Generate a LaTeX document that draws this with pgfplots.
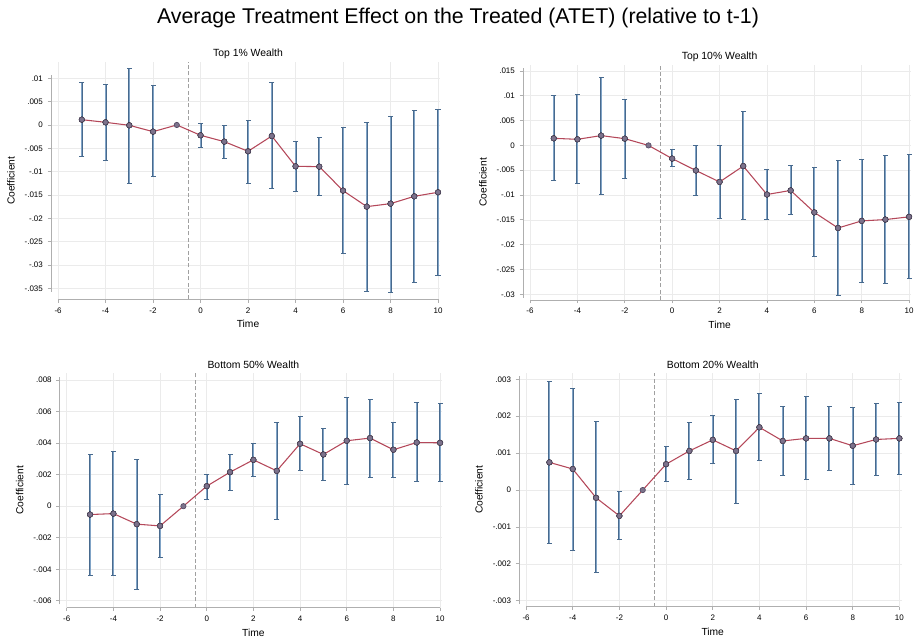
\documentclass[border=0pt]{standalone}
\usepackage{fontspec}
\setmainfont{Liberation Sans}
\usepackage{pgfplots}
\usepackage{pgfplotstable}
\pgfplotsset{compat=1.18}

\definecolor{linered}{RGB}{180,72,90}
\definecolor{markgray}{RGB}{125,115,140}
\definecolor{markdark}{RGB}{85,75,100}
\definecolor{cidark}{RGB}{72,106,142}
\definecolor{cilight}{RGB}{128,163,198}
\definecolor{axisgray}{RGB}{175,175,175}
\definecolor{gridgray}{RGB}{235,235,235}
\definecolor{dashgray}{RGB}{160,160,160}

% x, estimate, lower and upper bound of the CI
\pgfplotstableread{
x y lo hi
-5 0.00114 -0.00679 0.00907
-4 0.00057 -0.00757 0.00879
-3 -0.00007 -0.0125 0.01221
-2 -0.00143 -0.01114 0.00843
-1 0 0 0
0 -0.00221 -0.00486 0.00036
1 -0.00357 -0.00721 0.0
2 -0.00564 -0.01243 0.001
3 -0.00236 -0.01371 0.00914
4 -0.00886 -0.01429 -0.00343
5 -0.00893 -0.01514 -0.00271
6 -0.01407 -0.02757 -0.0005
7 -0.0175 -0.03564 0.00057
8 -0.01686 -0.03586 0.00193
9 -0.01529 -0.03371 0.00307
10 -0.01443 -0.03221 0.00336
}\topone

\pgfplotstableread{
x y lo hi
-5 0.00143 -0.00716 0.01002
-4 0.00123 -0.0077 0.01023
-3 0.00198 -0.00982 0.01377
-2 0.00136 -0.00661 0.00934
-1 0 0 0
0 -0.00266 -0.0043 -0.00089
1 -0.00505 -0.01002 -0.00007
2 -0.00736 -0.01466 -0.00003
3 -0.00416 -0.01493 0.00682
4 -0.00989 -0.01493 -0.00477
5 -0.00907 -0.01391 -0.00409
6 -0.0135 -0.02237 -0.0045
7 -0.01664 -0.03014 -0.003
8 -0.01521 -0.02755 -0.0028
9 -0.01494 -0.02776 -0.00205
10 -0.01439 -0.02687 -0.00191
}\topten

\pgfplotstableread{
x y lo hi
-5 -0.00053 -0.00442 0.0033
-4 -0.00047 -0.0044 0.00349
-3 -0.00114 -0.00525 0.00296
-2 -0.00125 -0.00328 0.00076
-1 0 0 0
0 0.00127 0.00044 0.00201
1 0.00216 0.00102 0.0033
2 0.00294 0.0019 0.00398
3 0.00224 -0.00085 0.00533
4 0.00396 0.00224 0.00567
5 0.00328 0.00163 0.00491
6 0.00415 0.00135 0.0069
7 0.00432 0.00184 0.00677
8 0.00358 0.00184 0.00529
9 0.00404 0.00154 0.00656
10 0.00402 0.00154 0.0065
}\bottomfifty

\pgfplotstableread{
x y lo hi
-5 0.00075 -0.00145 0.00294
-4 0.00057 -0.00163 0.00276
-3 -0.00021 -0.00224 0.00185
-2 -0.0007 -0.00133 -0.00005
-1 0 0 0
0 0.0007 0.00023 0.00117
1 0.00106 0.00029 0.00183
2 0.00136 0.00072 0.00201
3 0.00106 -0.00036 0.00246
4 0.0017 0.0008 0.00262
5 0.00133 0.0004 0.00226
6 0.0014 0.00029 0.00253
7 0.0014 0.00054 0.00226
8 0.0012 0.00016 0.00223
9 0.00137 0.0004 0.00235
10 0.0014 0.00043 0.00237
}\bottomtwenty

\pgfplotsset{
  panel/.style={
    scale only axis, anchor=south west, clip=false,
    xmin=-6.3, xmax=10.1, scaled y ticks=false,
    axis x line*=bottom, axis y line*=left,
    axis line style={draw=none},
    xtick={-6,-4,...,10}, xticklabels={-6,-4,-2,0,2,4,6,8,10},
    tick align=outside, major tick length=2.5pt,
    tick style={axisgray, line width=0.6pt},
    grid=major, grid style={gridgray, line width=0.5pt},
    tick label style={font=\fontsize{6}{7}\selectfont},
  },
  ciouter/.style={only marks, mark=none, forget plot,
    error bars/.cd, y dir=both, y explicit, error mark=none,
    error bar style={draw=cidark, line width=1.5pt}},
  ciinner/.style={only marks, mark=none, forget plot,
    error bars/.cd, y dir=both, y explicit, error mark=none,
    error bar style={draw=cilight, line width=0.75pt}},
  cicap/.style={only marks, mark=-, mark size=1.9pt, forget plot,
    mark options={draw=cidark, line width=0.7pt}},
  est/.style={color=linered, line width=0.8pt, mark=*, mark size=2pt,
    mark options={fill=markgray, draw=markdark, line width=0.5pt}},
  table/citab/.style={x=x, y=y, skip coords between index={4}{5},
    y error plus expr=\thisrow{hi}-\thisrow{y},
    y error minus expr=\thisrow{y}-\thisrow{lo}},
}

\begin{document}
\begin{tikzpicture}
\useasboundingbox (0,0) rectangle (687.75pt,480pt);

\node[font=\fontsize{16}{19}\selectfont] at (343.5pt,466.5pt)
  {Average Treatment Effect on the Treated (ATET) (relative to t-1)};

% Top 1%
\begin{axis}[panel, at={(38.2pt,255.4pt)}, width=292.1pt, height=178.1pt,
  ymin=-0.0374, ymax=0.0135,
  ytick={-0.035,-0.03,-0.025,-0.02,-0.015,-0.01,-0.005,0,0.005,0.01},
  yticklabels={-.035,-.03,-.025,-.02,-.015,-.01,-.005,0,.005,.01}]
\draw[dashgray, line width=0.75pt, dash pattern=on 3pt off 1.8pt]
  (axis cs:-0.5,-0.0374) -- (axis cs:-0.5,0.0135);
\addplot[ciouter] table[citab] {\topone};
\addplot[ciinner] table[citab] {\topone};
\addplot[cicap] table[x=x, y=hi, skip coords between index={4}{5}] {\topone};
\addplot[cicap] table[x=x, y=lo, skip coords between index={4}{5}] {\topone};
\addplot[est] table[x=x, y=y] {\topone};
\draw[axisgray, line width=0.6pt] (axis cs:-6,-0.0374) -- (axis cs:10,-0.0374);
\draw[axisgray, line width=0.6pt] ([yshift=-2.6pt]axis cs:-6.3,-0.035) -- ([yshift=2.6pt]axis cs:-6.3,0.01);
\node[font=\fontsize{7.8}{9}\selectfont, yshift=5.8pt] at (axis cs:2,0.0135) {Top 1\% Wealth};
\node[font=\fontsize{7.7}{9}\selectfont, yshift=-18.5pt] at (axis cs:2,-0.0374) {Time};
\node[font=\fontsize{7.7}{9}\selectfont, rotate=90] at ([xshift=-30pt]rel axis cs:0,0.5) {Coefficient};
\end{axis}

% Top 10%
\begin{axis}[panel, at={(392.2pt,255pt)}, width=291.4pt, height=176.6pt,
  ymin=-0.03115, ymax=0.0163,
  ytick={-0.03,-0.025,-0.02,-0.015,-0.01,-0.005,0,0.005,0.01,0.015},
  yticklabels={-.03,-.025,-.02,-.015,-.01,-.005,0,.005,.01,.015}]
\draw[dashgray, line width=0.75pt, dash pattern=on 3pt off 1.8pt]
  (axis cs:-0.5,-0.03115) -- (axis cs:-0.5,0.0163);
\addplot[ciouter] table[citab] {\topten};
\addplot[ciinner] table[citab] {\topten};
\addplot[cicap] table[x=x, y=hi, skip coords between index={4}{5}] {\topten};
\addplot[cicap] table[x=x, y=lo, skip coords between index={4}{5}] {\topten};
\addplot[est] table[x=x, y=y] {\topten};
\draw[axisgray, line width=0.6pt] (axis cs:-6,-0.03115) -- (axis cs:10,-0.03115);
\draw[axisgray, line width=0.6pt] ([yshift=-2.6pt]axis cs:-6.3,-0.03) -- ([yshift=2.6pt]axis cs:-6.3,0.015);
\node[font=\fontsize{7.8}{9}\selectfont, yshift=5.5pt] at (axis cs:2,0.0163) {Top 10\% Wealth};
\node[font=\fontsize{7.7}{9}\selectfont, yshift=-18.5pt] at (axis cs:2,-0.03115) {Time};
\node[font=\fontsize{7.7}{9}\selectfont, rotate=90] at ([xshift=-30pt]rel axis cs:0,0.5) {Coefficient};
\end{axis}

% Bottom 50%
\begin{axis}[panel, at={(44.8pt,24.2pt)}, width=287pt, height=176.2pt,
  ymin=-0.00644, ymax=0.00846,
  ytick={-0.006,-0.004,-0.002,0,0.002,0.004,0.006,0.008},
  yticklabels={-.006,-.004,-.002,0,.002,.004,.006,.008}]
\draw[dashgray, line width=0.75pt, dash pattern=on 3pt off 1.8pt]
  (axis cs:-0.5,-0.00644) -- (axis cs:-0.5,0.00846);
\addplot[ciouter] table[citab] {\bottomfifty};
\addplot[ciinner] table[citab] {\bottomfifty};
\addplot[cicap] table[x=x, y=hi, skip coords between index={4}{5}] {\bottomfifty};
\addplot[cicap] table[x=x, y=lo, skip coords between index={4}{5}] {\bottomfifty};
\addplot[est] table[x=x, y=y] {\bottomfifty};
\draw[axisgray, line width=0.6pt] (axis cs:-6,-0.00644) -- (axis cs:10,-0.00644);
\draw[axisgray, line width=0.6pt] ([yshift=-2.6pt]axis cs:-6.3,-0.006) -- ([yshift=2.6pt]axis cs:-6.3,0.008);
\node[font=\fontsize{7.8}{9}\selectfont, yshift=5.8pt] at (axis cs:2,0.00846) {Bottom 50\% Wealth};
\node[font=\fontsize{7.7}{9}\selectfont, yshift=-18.8pt] at (axis cs:2,-0.00644) {Time};
\node[font=\fontsize{7.7}{9}\selectfont, rotate=90] at ([xshift=-30pt]rel axis cs:0,0.5) {Coefficient};
\end{axis}

% Bottom 20%
\begin{axis}[panel, at={(389.3pt,25pt)}, width=287pt, height=175.5pt,
  ymin=-0.00316, ymax=0.00318,
  ytick={-0.003,-0.002,-0.001,0,0.001,0.002,0.003},
  yticklabels={-.003,-.002,-.001,0,.001,.002,.003}]
\draw[dashgray, line width=0.75pt, dash pattern=on 3pt off 1.8pt]
  (axis cs:-0.5,-0.00316) -- (axis cs:-0.5,0.00318);
\addplot[ciouter] table[citab] {\bottomtwenty};
\addplot[ciinner] table[citab] {\bottomtwenty};
\addplot[cicap] table[x=x, y=hi, skip coords between index={4}{5}] {\bottomtwenty};
\addplot[cicap] table[x=x, y=lo, skip coords between index={4}{5}] {\bottomtwenty};
\addplot[est] table[x=x, y=y] {\bottomtwenty};
\draw[axisgray, line width=0.6pt] (axis cs:-6,-0.00316) -- (axis cs:10,-0.00316);
\draw[axisgray, line width=0.6pt] ([yshift=-2.6pt]axis cs:-6.3,-0.003) -- ([yshift=2.6pt]axis cs:-6.3,0.003);
\node[font=\fontsize{7.8}{9}\selectfont, yshift=5.8pt] at (axis cs:2,0.00318) {Bottom 20\% Wealth};
\node[font=\fontsize{7.7}{9}\selectfont, yshift=-18.8pt] at (axis cs:2,-0.00316) {Time};
\node[font=\fontsize{7.7}{9}\selectfont, rotate=90] at ([xshift=-30pt]rel axis cs:0,0.5) {Coefficient};
\end{axis}
\end{tikzpicture}
\end{document}
